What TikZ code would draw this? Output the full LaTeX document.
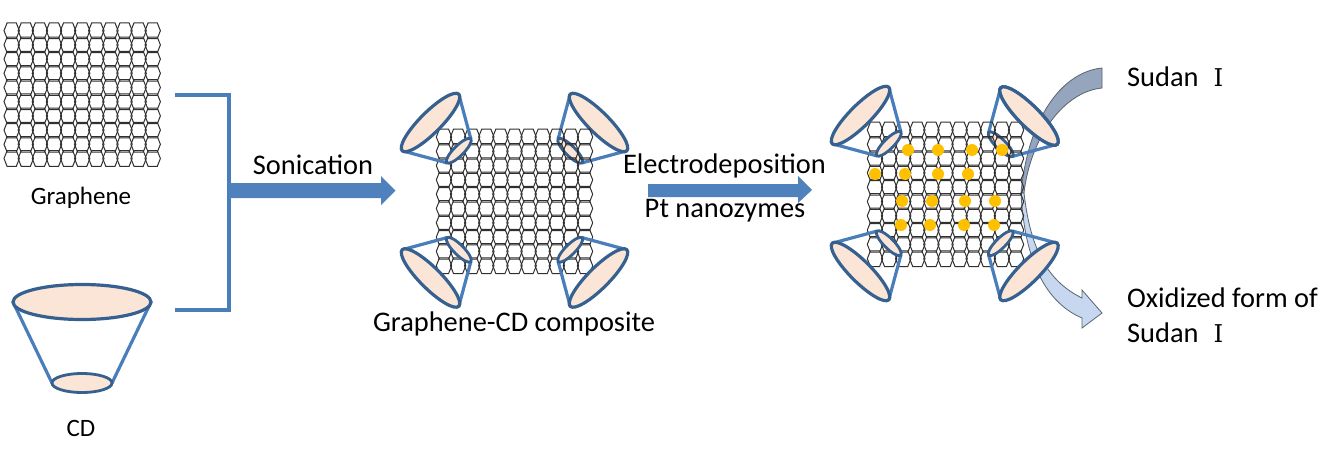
\documentclass[tikz,border=0pt]{standalone}
\usepackage{fontspec}
\setmainfont{Carlito}
\newfontfamily\romanfont{DejaVu Serif}
\definecolor{conelinec}{HTML}{4A7EBB}
\definecolor{coneedge}{HTML}{35608F}
\definecolor{conefill}{HTML}{FBE5D6}
\definecolor{dotc}{HTML}{FFC000}
\definecolor{hexc}{HTML}{303030}
\definecolor{arrc}{HTML}{4F81BD}
\definecolor{grayarr}{HTML}{94A5BD}
\definecolor{lightarr}{HTML}{C6D7EF}
\definecolor{arrline}{HTML}{5A6470}
\tikzset{
  hexline/.style={draw=hexc,line width=1pt},
  conewall/.style={draw=conelinec,line width=3.2pt,line cap=round},
  conerim/.style={draw=coneedge,line width=3.2pt,fill=conefill},
  conerimsmall/.style={draw=coneedge,line width=2.8pt,fill=conefill},
  nanodot/.style={fill=dotc,draw=none},
  bigarrow/.style={fill=arrc,draw=none},
  curvearrow/.style={draw=arrline,line width=0.8pt},
  lbl/.style={inner sep=0pt,text=black,anchor=base},
  bigtext/.style={font=\fontsize{28.4}{32}\selectfont},
  smalltext/.style={font=\fontsize{25}{30}\selectfont},
}
\newcommand{\hexgridat}[4]{%
  \foreach \ci in {0,...,10}{\foreach \ri in {0,...,9}{%
    \draw[hexline,shift={(#1+\ci*#3,#2+\ri*#4)}]
      (-7.7,0)--(-4.6,-7.8)--(4.6,-7.8)--(7.7,0)--(4.6,7.8)--(-4.6,7.8)--cycle;
  }}}
\newcommand{\conewalls}[3]{%
  \begin{scope}[shift={(#1,#2)},rotate=#3]
    \coordinate (wl) at (-40pt,0pt); \coordinate (wr) at (40pt,0pt);
    \coordinate (sl) at (-17pt,-40pt); \coordinate (sr) at (17pt,-40pt);
    \draw[conewall] (wl)--(sl); \draw[conewall] (wr)--(sr);
  \end{scope}}
\newcommand{\conewide}[3]{%
  \begin{scope}[shift={(#1,#2)},rotate=#3]
    \draw[conerim] (0pt,0pt) ellipse (40pt and 10.5pt);
  \end{scope}}
\newcommand{\conesmall}[3]{%
  \begin{scope}[shift={(#1,#2)},rotate=#3]
    \draw[conerimsmall] (0pt,-40pt) ellipse (17pt and 5pt);
  \end{scope}}
\newcommand{\conefull}[3]{\conewalls{#1}{#2}{#3}\conesmall{#1}{#2}{#3}\conewide{#1}{#2}{#3}}
\newcommand{\romanone}{\hspace{15pt}{\romanfont\fontsize{24.5}{28}\selectfont Ⅰ}}
\begin{document}
\begin{tikzpicture}[x=1pt,y=-1pt]
\useasboundingbox (0,0) rectangle (1325,463);
\fill[white] (0,0) rectangle (1325,463);

% left graphene
\hexgridat{11.7}{30.7}{14.1}{14.2}
\node[lbl,smalltext] (graphene) at (81,204) {Graphene};

% CD
\coordinate (cdwl) at (13,302); \coordinate (cdwr) at (151,302);
\coordinate (cdsl) at (52,383); \coordinate (cdsr) at (112,383);
\draw[conewall] (cdwl)--(cdsl); \draw[conewall] (cdwr)--(cdsr);
\draw[conerim] (82,302) ellipse (69pt and 17.5pt);
\draw[conerimsmall] (82,383) ellipse (30pt and 9.5pt);
\node[lbl,smalltext] (cd) at (81,436) {CD};

% bracket
\coordinate (bt) at (175,95); \coordinate (btc) at (229,95);
\coordinate (bbc) at (229,310); \coordinate (bb) at (175,310);
\draw[draw=conelinec,line width=3.2pt] (bt)--(btc)--(bbc)--(bb);

% sonication arrow
\fill[bigarrow] (229,183)--(381,183)--(381,176)--(395.5,190.7)--(381,205)--(381,198)--(229,198)--cycle;
\node[lbl,bigtext] (son) at (313,174) {Sonication};

% middle composite
\conefull{598.5}{122.5}{-45}
\hexgridat{444}{137}{14.1}{14.3}
\conefull{430.5}{122.5}{45}
\conefull{430.5}{278}{135}
\conefull{598.5}{278}{225}
\node[lbl,bigtext] (comp) at (514,331) {Graphene-CD composite};

% electrodeposition arrow
\fill[bigarrow] (648,184)--(798,184)--(798,176)--(812,190)--(798,203)--(798,197)--(648,197)--cycle;
\node[lbl,bigtext] (elec) at (724.5,173.5) {Electrodeposition};
\node[lbl,bigtext] (pt) at (725,217) {Pt nanozymes};

% curved arrows
\draw[curvearrow,fill=grayarr]
  (1102,68) .. controls (1062,72) and (1028,118) .. (1021,193)
  -- (1024,193) .. controls (1030,140) and (1062,92) .. (1102,88) -- cycle;
\draw[curvearrow,fill=lightarr]
  (1021,193) .. controls (1024,250) and (1040,300) .. (1082,318)
  -- (1082,328) -- (1102,313) -- (1082,290) -- (1082,298)
  .. controls (1045,280) and (1030,245) .. (1024,193) -- cycle;

% right composite
\conefull{1029}{116}{-45}
\hexgridat{875}{130}{14.1}{14.3}
\conewide{1029}{116}{-45}
\conefull{860.5}{115.5}{45}
\conefull{860.5}{271.5}{135}
\conefull{1029}{271.5}{225}

% dots
\foreach \px/\py in {908/150,938/150,972/150,1002/150,875/174,905/174,938/174,968/174,902/201,932/201,965/201,995/201,901/225,930/225,964/225,994/225}
  \fill[nanodot] (\px,\py) circle (6pt);

% right labels
\node[lbl,bigtext,anchor=base west] (s1) at (1127,86) {Sudan\romanone};
\node[lbl,bigtext,anchor=base west] (ox) at (1127,307) {Oxidized form of};
\node[lbl,bigtext,anchor=base west] (s2) at (1127,342) {Sudan\romanone};
\end{tikzpicture}
\end{document}
